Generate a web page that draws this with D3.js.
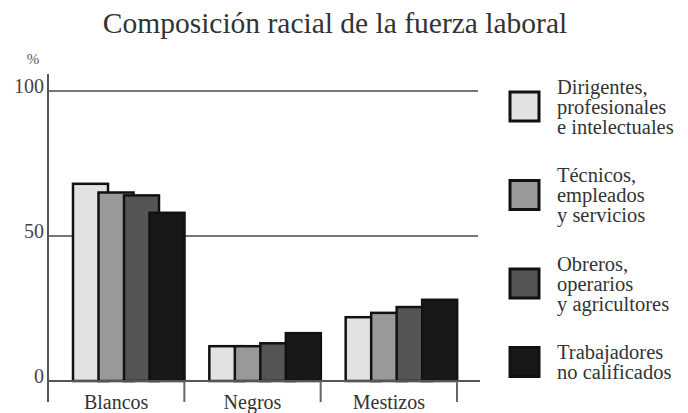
<!DOCTYPE html>
<html>
<head>
<meta charset="utf-8">
<script src="https://cdn.jsdelivr.net/npm/d3@7"></script>
<style>
  body { margin: 0; background: #fff; }
</style>
</head>
<body>
<svg id="chart" width="688" height="413"></svg>
<script>
// Data
var categories = ['Blancos', 'Negros', 'Mestizos'];
var series = [
  'Dirigentes, profesionales e intelectuales',
  'Técnicos, empleados y servicios',
  'Obreros, operarios y agricultores',
  'Trabajadores no calificados'
];
var legendLines = [
  ['Dirigentes,', 'profesionales', 'e intelectuales'],
  ['Técnicos,', 'empleados', 'y servicios'],
  ['Obreros,', 'operarios', 'y agricultores'],
  ['Trabajadores', 'no calificados']
];
// values[category][series], in %
var blancos = [68, 65, 64, 58];
var negros = [12, 12, 13, 16.5];
var mestizos = [22, 23.5, 25.5, 28];
var yTicks = [0, 50, 100];

var colors = ['#e2e2e2', '#999999', '#555555', '#181818'];
var serif = "'Liberation Serif', 'DejaVu Serif', 'Times New Roman', serif";

(function draw() {
  var svg = d3.select('#chart')
      .style('font-family', serif);
  var values = [blancos, negros, mestizos];

  var data = [];
  categories.forEach(function (c, ci) {
    series.forEach(function (s, si) {
      data.push({ cat: c, serie: s, i: si, value: values[ci][si] });
    });
  });

  var yScale = d3.scaleLinear().domain([0, 100]).range([381, 91]);
  var xScale = d3.scaleBand().domain(categories).range([48, 457]);
  // bars overlap: each is wider than its step
  var inner = d3.scaleBand().domain(series).range([25, 127]);
  var barW = 35;

  // Title
  svg.append('text')
      .attr('x', 335)
      .attr('y', 33)
      .attr('text-anchor', 'middle')
      .attr('fill', '#333')
      .style('font-size', '29.5px')
      .text('Composición racial de la fuerza laboral');

  // Gridlines at 50 and 100
  svg.append('g').selectAll('line')
      .data(yTicks.filter(function (d) { return d > 0; }))
      .enter()
    .append('line')
      .attr('x1', 48)
      .attr('x2', 478)
      .attr('y1', function (d) { return yScale(d); })
      .attr('y2', function (d) { return yScale(d); })
      .attr('stroke', '#777')
      .attr('stroke-width', 2.2);

  // Y tick labels
  svg.append('g').selectAll('text')
      .data(yTicks)
      .enter()
    .append('text')
      .attr('x', 44)
      .attr('y', function (d) { return yScale(d) + 2; })
      .attr('text-anchor', 'end')
      .attr('fill', '#444')
      .style('font-size', '20px')
      .text(function (d) { return d; });

  svg.append('text')
      .attr('x', 33)
      .attr('y', 64)
      .attr('text-anchor', 'middle')
      .attr('fill', '#555')
      .style('font-size', '15px')
      .text('%');

  // Bars, drawn in order so each one covers part of the previous
  var group = svg.append('g');
  group.selectAll('rect')
      .data(data)
      .enter()
    .append('rect')
      .attr('x', function (d) { return xScale(d.cat) + inner(d.serie); })
      .attr('y', function (d) { return yScale(d.value); })
      .attr('width', barW)
      .attr('height', function (d) { return yScale(0) - yScale(d.value); })
      .attr('fill', function (d) { return colors[d.i]; })
      .attr('stroke', '#111')
      .attr('stroke-width', 2.5);

  // Baseline and axis
  svg.append('line')
      .attr('x1', 48).attr('x2', 480)
      .attr('y1', yScale(0)).attr('y2', yScale(0))
      .attr('stroke', '#555')
      .attr('stroke-width', 2);

  svg.append('line')
      .attr('x1', 48).attr('x2', 48)
      .attr('y1', 74).attr('y2', 402)
      .attr('stroke', '#555')
      .attr('stroke-width', 2);

  // Category ticks at the right end of each band
  svg.append('g').selectAll('line')
      .data(categories)
      .enter()
    .append('line')
      .attr('x1', function (d) { return xScale(d) + xScale.bandwidth(); })
      .attr('x2', function (d) { return xScale(d) + xScale.bandwidth(); })
      .attr('y1', yScale(0))
      .attr('y2', 402)
      .attr('stroke', '#666')
      .attr('stroke-width', 2);

  svg.append('g').selectAll('text')
      .data(categories)
      .enter()
    .append('text')
      .attr('x', function (d) { return xScale(d) + xScale.bandwidth() / 2; })
      .attr('y', 409)
      .attr('text-anchor', 'middle')
      .attr('fill', '#333')
      .style('font-size', '20px')
      .text(function (d) { return d; });

  // Legend
  var lineH = 20, gap = 28.5, boxSize = 31;
  var centers = [], c = 107.5;
  legendLines.forEach(function (lines, i) {
    if (i > 0) c += (legendLines[i - 1].length + lines.length) * lineH / 2 + gap;
    centers.push(c);
  });

  var legend = svg.append('g').selectAll('g')
      .data(legendLines)
      .enter()
    .append('g')
      .attr('transform', function (d, i) { return 'translate(0,' + centers[i] + ')'; });

  legend.append('rect')
      .attr('x', 510)
      .attr('y', -boxSize / 2)
      .attr('width', boxSize - 2)
      .attr('height', boxSize - 2)
      .attr('fill', function (d, i) { return colors[i]; })
      .attr('stroke', '#111')
      .attr('stroke-width', 3);

  legend.selectAll('text')
      .data(function (d) { return d.map(function (t, j) { return { t: t, j: j, n: d.length }; }); })
      .enter()
    .append('text')
      .attr('x', 557)
      .attr('y', function (d) { return (d.j - (d.n - 1) / 2) * lineH + 6; })
      .attr('fill', '#333')
      .style('font-size', '20.5px')
      .text(function (d) { return d.t; });
})();
</script>
</body>
</html>
